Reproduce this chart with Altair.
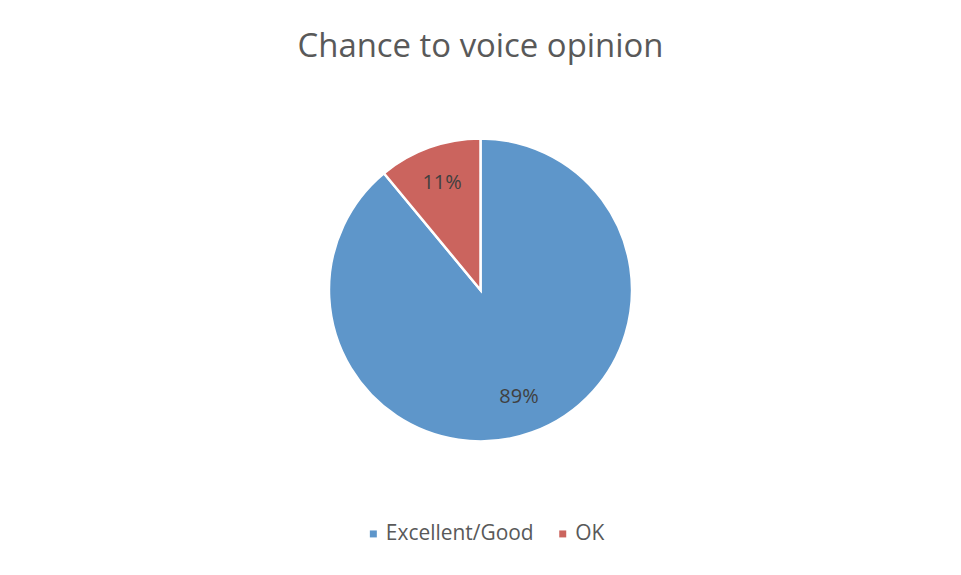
import altair as alt
import pandas as pd

categories = ["Excellent/Good", "OK"]
values = [89, 11]
colors = ["#5E96CA", "#CB645E"]

df = pd.DataFrame({
    "category": categories,
    "value": values,
    "order": list(range(len(categories))),
    "label": [f"{v}%" for v in values],
})

FONT = "Open Sans"

color = alt.Color(
    "category:N",
    scale=alt.Scale(domain=categories, range=colors),
    legend=alt.Legend(
        orient="none", legendX=356, legendY=454, direction="horizontal",
        title=None, symbolType="square", symbolSize=49, symbolStrokeWidth=0,
        labelFontSize=21, labelColor="#595959", labelFont=FONT,
        columnPadding=18, labelOffset=2,
    ),
)

base = alt.Chart(df).encode(
    theta=alt.Theta("value:Q", stack=True),
    order=alt.Order("order:Q"),
)

pie = base.mark_arc(outerRadius=152, stroke="white", strokeWidth=2.5).encode(color=color)
text = base.mark_text(radius=114, fontSize=20, color="#404040", font=FONT).encode(text="label:N")

chart = (pie + text).properties(
    width=948, height=440,
    title=alt.TitleParams("Chance to voice opinion", fontSize=33, font=FONT,
                          color="#595959", fontWeight="normal", anchor="middle", offset=7),
    padding={"left": 0, "top": 22, "right": 0, "bottom": 0},
).configure_view(stroke=None).configure(background="white")

chart.save("out.html", embed_options={"renderer": "svg", "actions": False})
